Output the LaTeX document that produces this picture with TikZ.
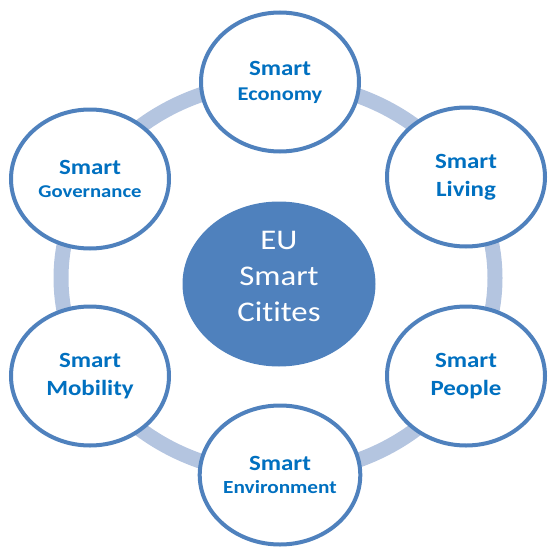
\documentclass[tikz,border=0pt]{standalone}
\usepackage{fontspec}
\setmainfont{Carlito}[FakeStretch=1.15, Ligatures=NoCommon]
\usetikzlibrary{shapes.geometric}
\definecolor{ringblue}{HTML}{B4C5E0}
\definecolor{edgeblue}{HTML}{4F81BD}
\definecolor{textblue}{HTML}{0070C0}
\tikzset{
  smartnode/.style={ellipse, draw=edgeblue, line width=4pt, fill=white,
    minimum width=158pt, minimum height=139pt, inner sep=0pt,
    align=center, text=textblue, font=\bfseries\fontsize{21.7}{25}\selectfont},
  widegap/.style={font=\bfseries\fontsize{21.7}{28}\selectfont},
  narrowgap/.style={font=\bfseries\fontsize{21.7}{22.5}\selectfont},
  hubnode/.style={ellipse, fill=edgeblue, minimum width=193pt,
    minimum height=165pt, inner sep=0pt},
}
\newcommand{\smline}[2]{{\fontsize{#1}{25}\selectfont #2}}

\begin{document}
\begin{tikzpicture}[x=1pt,y=-1pt]
\useasboundingbox (0,0) rectangle (549,551);
% ring behind the circles
\draw [ringblue, line width=15pt] (278,278) ellipse [x radius=217pt, y radius=196pt];

\node [hubnode] (hub) at (279,284) {};
\node [text=white, align=center, font=\fontsize{28.5}{36}\selectfont] (hubtext) at (279,276) {EU\\Smart\\Citites};

\node [smartnode] (economy) at (280,82) {Smart\\\smline{19.5}{Economy}};
\node [smartnode, widegap] (living) at (466,177) {Smart\\Living};
\node [smartnode, widegap] (people) at (466,376) {Smart\\People};
\node [smartnode, narrowgap] (environment) at (280,475) {Smart\\\smline{18.5}{Environment}};
\node [smartnode, widegap] (mobility) at (90,376) {Smart\\Mobility};
\node [smartnode, narrowgap] (governance) at (90,179) {Smart\\\smline{18}{Governance}};
\end{tikzpicture}
\end{document}
